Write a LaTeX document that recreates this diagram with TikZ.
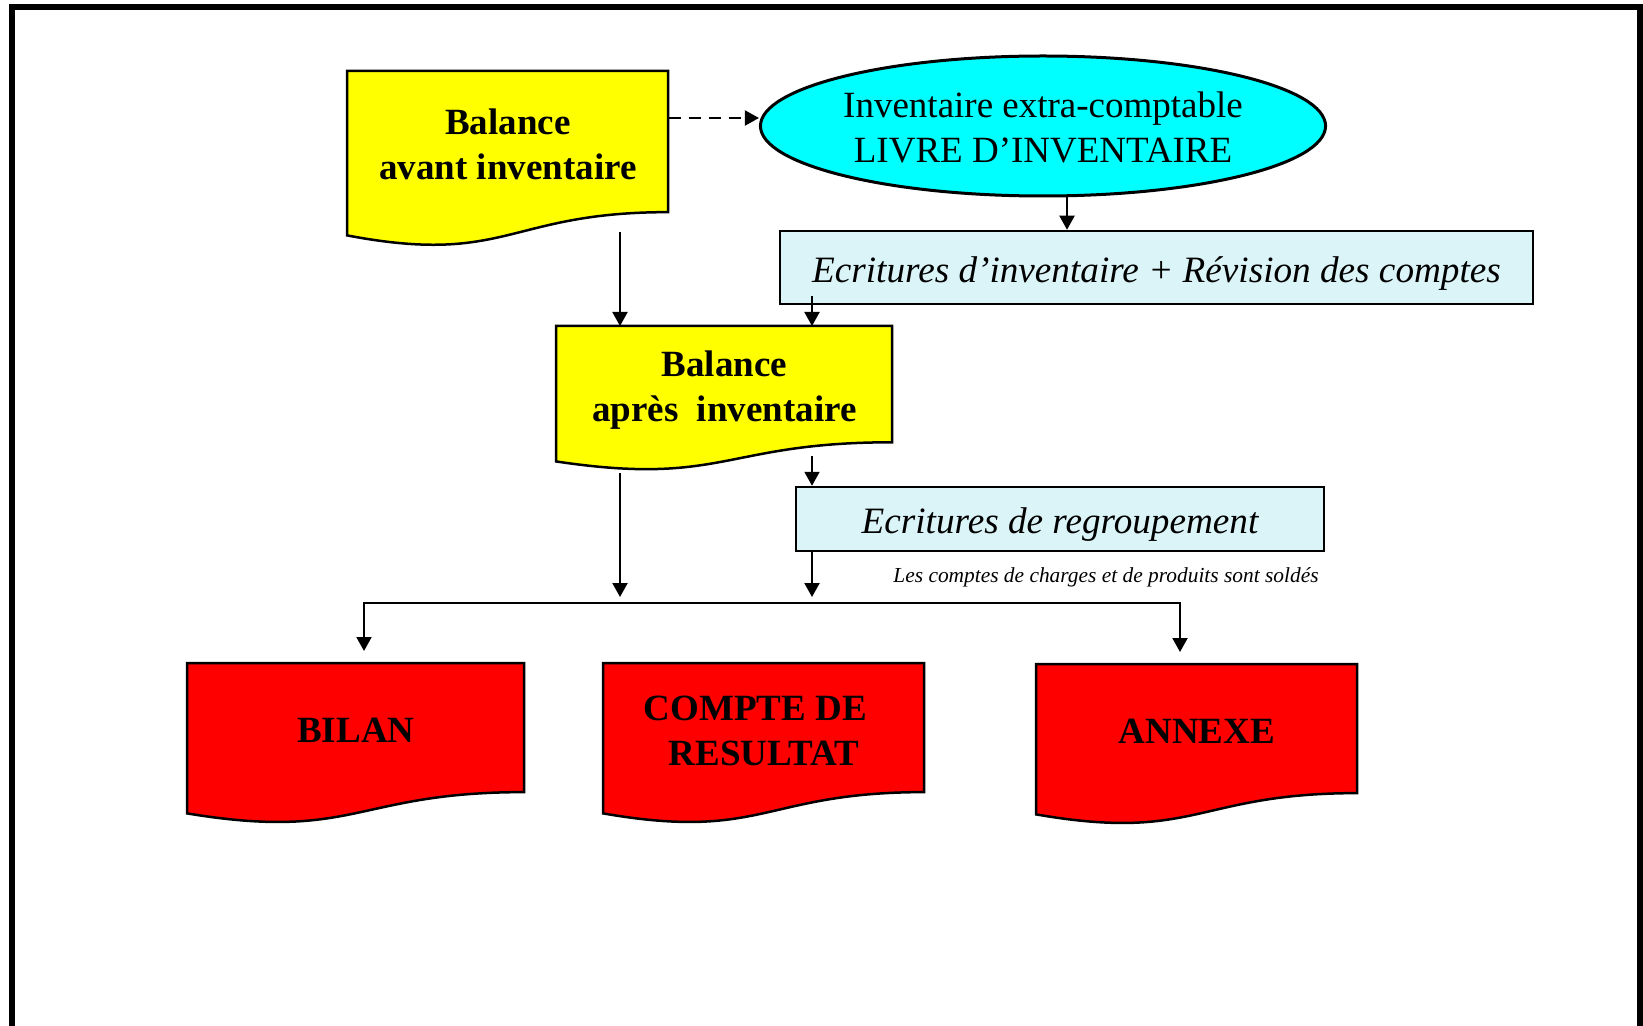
\documentclass[tikz,border=0pt]{standalone}
\usepackage{fontspec}
\setmainfont{Liberation Serif}
\usetikzlibrary{arrows.meta,shapes.geometric,calc}
\definecolor{docyellow}{HTML}{FFFF00}
\definecolor{docred}{HTML}{FF0000}
\definecolor{ellcyan}{HTML}{00FFFF}
\definecolor{boxcyan}{HTML}{DAF4F8}
\tikzset{
  docline/.style={draw=black, line width=1.25pt, line join=miter},
  doctext/.style={inner sep=0pt, align=center, font=\fontsize{18.5pt}{22.5pt}\selectfont\bfseries},
  ellnode/.style={ellipse, draw=black, line width=1.5pt, fill=ellcyan, inner sep=0pt,
    minimum width=277pt, minimum height=70pt, align=center, font=\fontsize{18.5pt}{22.5pt}\selectfont},
  ecrbox/.style={rectangle, draw=black, line width=1.25pt, fill=boxcyan, inner sep=0pt,
    text depth=0pt, text height=14.6pt, font=\fontsize{18.6pt}{22.5pt}\selectfont\itshape},
  arr/.style={-{Triangle[length=7pt,width=7.5pt]}, line width=1pt},
  dasharr/.style={-{Triangle[length=7pt,width=7.5pt]}, line width=1pt, dash pattern=on 6pt off 4pt},
}
\newcommand\mydocbox[7]{%
  \draw[docline, fill=#6] (#2,#3) -- (#2+#4,#3) -- (#2+#4,#3+0.802*#5)
    .. controls (#2+0.5*#4,#3+0.802*#5) and (#2+0.5*#4,#3+1.1075*#5) .. (#2,#3+0.934*#5) -- cycle;
  \node[doctext, minimum width=#4*0.5pt, minimum height=#5*0.401pt, anchor=north west] (#1) at (#2,#3) {\rule{0pt}{15pt}#7};
}
\begin{document}
\begin{tikzpicture}[x=0.5pt,y=-0.5pt]
\useasboundingbox (0,0) rectangle (1643,1026);
\fill[white] (0,0) rectangle (1643,1026);
% frame
\draw[line width=3pt, line join=miter] (12,1026) -- (12,7) -- (1640,7) -- (1640,1026);

% document shapes
\mydocbox{bav}{347}{71}{321}{176}{docyellow}{Balance\\avant inventaire}
\mydocbox{bap}{556}{326}{336}{145}{docyellow}{Balance\\a\smash{p}rès\ \ inventaire}
\mydocbox{bilan}{187}{663}{337}{161}{docred}{BILAN}
\mydocbox{compte}{603}{663}{321}{161}{docred}{COMPTE DE\hspace*{8.5pt}\\RESULTAT}
\mydocbox{annexe}{1036}{664}{321}{161}{docred}{ANNEXE}

% ellipse
\node[ellnode] (ell) at (1043,126) {\rule{0pt}{14.6pt}Inventaire extra-comptable\\LIVRE D’INVENTAIRE};

% light boxes
\node[ecrbox, minimum width=376.5pt, minimum height=36.5pt] (ecr1) at (1156.5,267.5)
  {Ecritures d’inventaire + Révision des comptes};
\node[ecrbox, minimum width=264pt, minimum height=32pt] (ecr2) at (1060,519)
  {Ecritures de regroupement};

% note
\node[anchor=base east, inner sep=0pt, font=\fontsize{10.7pt}{12pt}\selectfont\itshape] (note) at (1319,582)
  {Les comptes de charges et de produits sont soldés};

% helper coordinates
\coordinate (xa) at (620,0);
\coordinate (xb) at (812,0);
\coordinate (xc) at (1067,0);
\coordinate (busL) at (364,603);
\coordinate (busR) at (1180,603);
\coordinate (d0) at ($(bav.north east)+(0,47)$);

% connectors
\draw[dasharr] (d0) -- (d0 -| ell.west);
\draw[arr] (ell.south -| xc) -- (ecr1.north -| xc);
\draw[arr] ($(bav.south -| xa)+(0,19)$) -- (bap.north -| xa);
\draw[arr] ($(ecr1.south -| xb)+(0,-9)$) -- (bap.north -| xb);
\draw[arr] ($(bap.south -| xb)+(0,13)$) -- (ecr2.north -| xb);
\draw[arr, shorten >=3pt] ($(bap.south -| xa)+(0,30)$) -- (busL -| xa);
\draw[arr, shorten >=3pt] (ecr2.south -| xb) -- (busL -| xb);
\draw[{Triangle[length=7pt,width=7.5pt]}-{Triangle[length=7pt,width=7.5pt]}, line width=1pt,
  shorten <=6pt, shorten >=6pt, line join=miter]
  (busL |- bilan.north) -- (busL) -- (busR) -- (busR |- annexe.north);
\end{tikzpicture}
\end{document}
